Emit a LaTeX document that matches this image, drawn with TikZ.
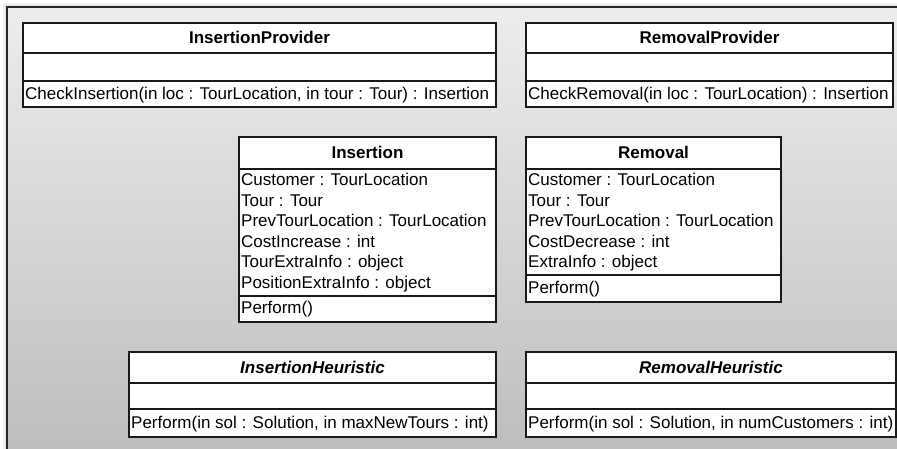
\documentclass[tikz,border=0pt]{standalone}
\usepackage{fontspec}
\setmainfont{Liberation Sans}
\newcommand{\umlsize}{\fontsize{17}{20.6}\selectfont}
\begin{document}
\begin{tikzpicture}[x=1pt,y=-1pt,
  classbox/.style={draw=black!90, line width=1.1pt, fill=white},
  divider/.style={draw=black!90, line width=1.1pt},
  classtitle/.style={font=\umlsize\bfseries, anchor=base, inner sep=0pt},
  abstracttitle/.style={font=\umlsize\bfseries\itshape, anchor=base, inner sep=0pt},
  member/.style={font=\umlsize, anchor=base west, inner sep=0pt}]
\useasboundingbox (0,0) rectangle (897,448);

% soft shadow and shaded panel
\fill[black!6] (3,3) rectangle (910,460);
\fill[black!11] (5,5) rectangle (910,460);
\shade[top color=black!7, bottom color=black!26] (7,7) rectangle (910,460);
\draw[line width=2pt, black!85] (7,460) -- (7,7) -- (910,7);

% InsertionProvider
\draw[classbox] (23,23) rectangle (496,107);
\draw[divider] (23,53) -- (496,53);
\draw[divider] (23,81) -- (496,81);
\node[classtitle] (ipt) at (259.5,43) {InsertionProvider};
\node[member] (ipm) at (25,99) {CheckInsertion(in loc : TourLocation, in tour : Tour) : Insertion};

% RemovalProvider
\draw[classbox] (526,23) rectangle (893,107);
\draw[divider] (526,53) -- (893,53);
\draw[divider] (526,81) -- (893,81);
\node[classtitle] (rpt) at (709.5,43) {RemovalProvider};
\node[member] (rpm) at (528,99) {CheckRemoval(in loc : TourLocation) : Insertion};

% Insertion
\draw[classbox] (239,137) rectangle (496,322);
\draw[divider] (239,169) -- (496,169);
\draw[divider] (239,296) -- (496,296);
\node[classtitle] (int) at (367.5,158) {Insertion};
\node[member] (ina1) at (241,185.5) {Customer : TourLocation};
\node[member] (ina2) at (241,206.1) {Tour : Tour};
\node[member] (ina3) at (241,226.7) {PrevTourLocation : TourLocation};
\node[member] (ina4) at (241,247.3) {CostIncrease : int};
\node[member] (ina5) at (241,267.9) {TourExtraInfo : object};
\node[member] (ina6) at (241,288.5) {PositionExtraInfo : object};
\node[member] (inm) at (241,313.5) {Perform()};

% Removal
\draw[classbox] (526,137) rectangle (781,302);
\draw[divider] (526,169) -- (781,169);
\draw[divider] (526,275) -- (781,275);
\node[classtitle] (rmt) at (653.5,158) {Removal};
\node[member] (rma1) at (528,185.5) {Customer : TourLocation};
\node[member] (rma2) at (528,206.1) {Tour : Tour};
\node[member] (rma3) at (528,226.7) {PrevTourLocation : TourLocation};
\node[member] (rma4) at (528,247.3) {CostDecrease : int};
\node[member] (rma5) at (528,267.9) {ExtraInfo : object};
\node[member] (rmm) at (528,293.5) {Perform()};

% InsertionHeuristic
\draw[classbox] (129,352) rectangle (496,437);
\draw[divider] (129,383) -- (496,383);
\draw[divider] (129,409) -- (496,409);
\node[abstracttitle] (iht) at (312.5,373) {InsertionHeuristic};
\node[member] (ihm) at (131,428.5) {Perform(in sol : Solution, in maxNewTours : int)};

% RemovalHeuristic
\draw[classbox] (526,352) rectangle (896,437);
\draw[divider] (526,383) -- (896,383);
\draw[divider] (526,409) -- (896,409);
\node[abstracttitle] (rht) at (711,373) {RemovalHeuristic};
\node[member] (rhm) at (528,428.5) {Perform(in sol : Solution, in numCustomers : int)};
\end{tikzpicture}
\end{document}
